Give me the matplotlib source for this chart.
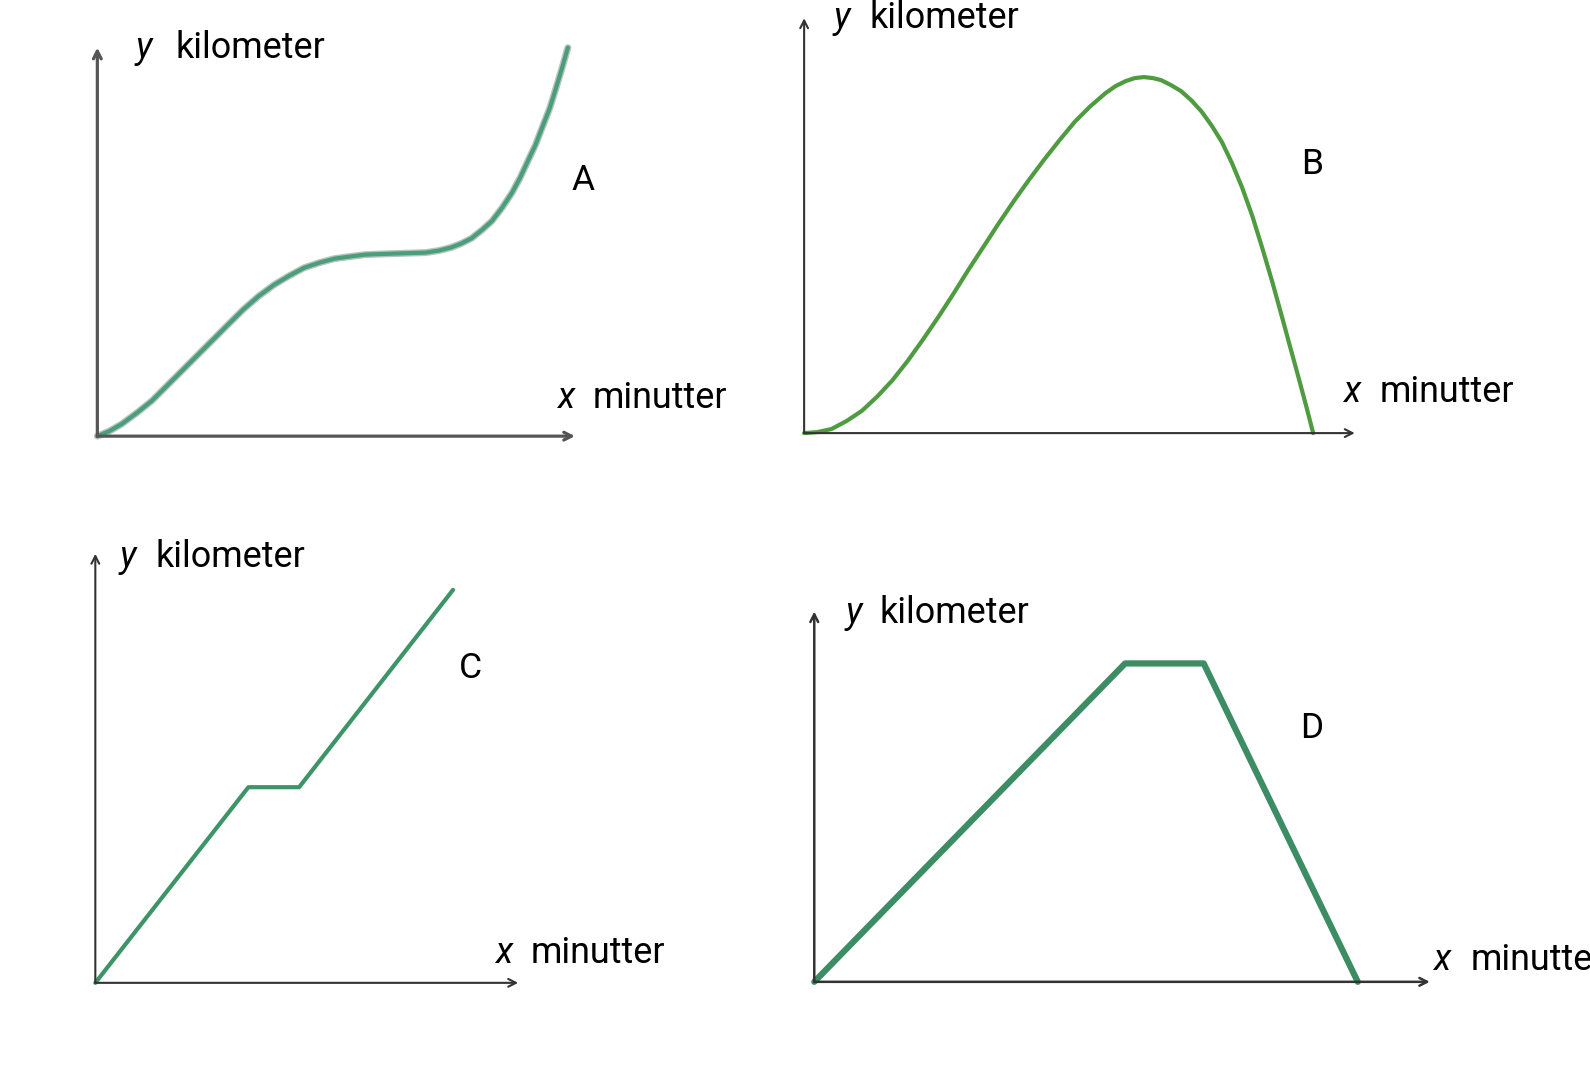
import matplotlib.pyplot as plt

plt.rcParams['font.family'] = ['Roboto', 'DejaVu Sans']

# graph A: distance (km) against time (minutes)
a_min = [0, 1.27, 2.55, 4.14, 5.73, 7.32, 8.92, 10.51, 12.10, 13.69, 15.29,
         16.88, 18.47, 20.06, 21.66, 23.25, 24.84, 26.43, 28.03, 29.62, 31.21,
         32.8, 34.39, 35.77, 37.05, 38.11, 39.17, 40.23, 41.30, 42.36, 43.42,
         44.27, 45.01, 45.86, 46.60, 47.35, 47.98, 48.62, 49.26]
a_km = [0, 0.52, 1.25, 2.40, 3.66, 5.22, 6.79, 8.36, 9.92, 11.49, 13.05,
        14.41, 15.56, 16.5, 17.34, 17.86, 18.28, 18.49, 18.69, 18.75, 18.80,
        18.85, 18.90, 19.11, 19.43, 19.84, 20.37, 21.2, 22.14, 23.5, 25.07,
        26.63, 28.20, 29.97, 31.85, 33.73, 35.72, 37.81, 40.0]

# graph B
b_min = [0, 1.44, 2.98, 4.64, 6.30, 7.96, 9.61, 11.27, 12.93, 14.59, 16.24,
         17.9, 19.56, 21.22, 22.87, 24.53, 26.19, 27.85, 29.50, 31.16, 32.82,
         33.92, 35.03, 36.02, 37.02, 38.01, 38.90, 40.0, 41.10, 42.2, 43.31,
         44.42, 45.52, 46.63, 47.73, 48.84, 49.94, 51.05, 52.15, 52.93, 53.81,
         54.7, 55.47]
b_km = [0, 0.11, 0.44, 1.32, 2.42, 3.96, 5.72, 7.81, 10.12, 12.54, 15.07,
        17.71, 20.24, 22.78, 25.20, 27.51, 29.71, 31.8, 33.78, 35.43, 36.86,
        37.63, 38.18, 38.51, 38.62, 38.51, 38.29, 37.74, 37.08, 36.09, 34.88,
        33.34, 31.58, 29.27, 26.63, 23.55, 20.02, 16.28, 12.32, 9.46, 6.27,
        2.97, 0]

# graph C
c_min = [0, 18.1, 24.1, 42.3]
c_km = [0, 11.4, 11.4, 22.9]

# graph D
d_min = [0, 30.3, 37.96, 52.98]
d_km = [0, 17.2, 17.2, 0]

W, H = 1590, 1065
fig = plt.figure(figsize=(W / 100, H / 100), dpi=100)


def px(x, y):
    return x / W, 1 - y / H


def make_axes(rect, xmax, ymax, axcol, axlw):
    ax = fig.add_axes(rect)
    ax.set_xlim(0, xmax)
    ax.set_ylim(0, ymax)
    ax.axis('off')
    style = '->,head_length=0.55,head_width=0.28'
    for end in [(1, 0), (0, 1)]:
        ax.annotate('', xy=end, xytext=(0, 0), xycoords='axes fraction',
                    arrowprops=dict(arrowstyle=style, lw=axlw, color=axcol,
                                    shrinkA=0, shrinkB=0))
    return ax


def labels(yx, kx, ky, xx, mx, my, letter, lx, lyy):
    fs = 25.8
    fig.text(*px(yx, ky), 'y', fontsize=fs, style='italic', va='baseline')
    fig.text(*px(kx, ky), 'kilometer', fontsize=fs, va='baseline')
    fig.text(*px(xx, my), 'x', fontsize=fs, style='italic', va='baseline')
    fig.text(*px(mx, my), 'minutter', fontsize=fs, va='baseline')
    fig.text(*px(lx, lyy), letter, fontsize=25.5, ha='center', va='center')


line_kw = dict(solid_capstyle='round', solid_joinstyle='round', clip_on=False)

# A
ax = make_axes([0.06122, 0.59048, 0.30038, 0.36476], 50, 40, '#555555', 2.3)
ax.plot(a_min, a_km, color='#b5c4bc', lw=5, **line_kw)
ax.plot(a_min, a_km, color='#4a9e7c', lw=3, **line_kw)
labels(135, 175, 58, 557, 593, 408, 'A', 583, 180)

# B
ax = make_axes([0.50574, 0.59333, 0.34630, 0.38952], 60, 45, '#333333', 1.5)
ax.plot(b_min, b_km, color='#4e9b40', lw=3, **line_kw)
labels(833, 870, 28, 1343, 1380, 402, 'B', 1312, 165)

# C
ax = make_axes([0.05995, 0.07714, 0.26594, 0.40286], 50, 25, '#333333', 1.5)
ax.plot(c_min, c_km, color='#3d9467', lw=3, **line_kw)
labels(119, 156, 567, 495, 531, 963, 'C', 470, 669)

# D
ax = make_axes([0.51212, 0.07810, 0.38712, 0.34762], 60, 20, '#333333', 1.8)
ax.plot(d_min, d_km, color='#3c8d63', lw=4.5, **line_kw)
labels(845, 880, 623, 1433, 1471, 970, 'D', 1312, 729)

fig.savefig('out.png', dpi=100)
